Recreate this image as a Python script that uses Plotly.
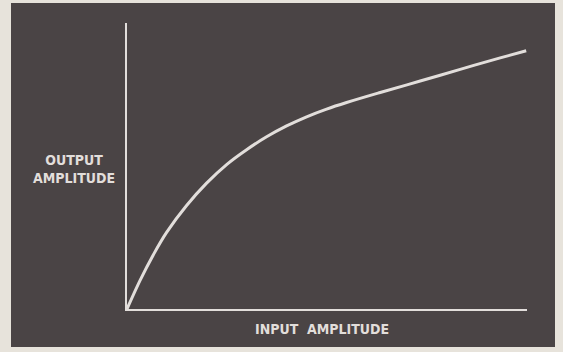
"""
Output vs input amplitude — compressive transfer curve on a dark card.
"""
import plotly.graph_objects as go

PANEL = "#4a4445"
BORDER = "#e7e3db"
INK = "#e2dedb"

# values (x: input, y: output, both in 0..10 units)
input_amp = [0.0, 0.33, 0.66, 0.99, 1.49, 1.99, 2.49, 2.99, 3.49, 3.99,
             4.49, 4.99, 5.49, 6.33, 7.33, 8.33, 9.33, 9.98]
output_amp = [0.0, 1.01, 1.90, 2.68, 3.62, 4.40, 5.05, 5.57, 6.02, 6.40,
              6.72, 6.99, 7.22, 7.57, 7.97, 8.38, 8.78, 9.03]

x_label = "INPUT&nbsp; AMPLITUDE"
y_label = "OUTPUT<br>AMPLITUDE"

# plot area in px: x 127..527, y 23..309
PW, PH = 400, 286

fig = go.Figure(go.Scatter(
    x=input_amp, y=output_amp,
    mode="lines",
    line=dict(color=INK, width=3, shape="spline", smoothing=1.0),
    hoverinfo="skip",
))

# dark card behind the plot, extending past the plot area
fig.add_shape(
    type="rect", xref="paper", yref="paper",
    x0=(11 - 127) / PW, x1=(555 - 127) / PW,
    y0=(309 - 347) / PH, y1=(309 - 3) / PH,
    fillcolor=PANEL, line_width=0, layer="below",
)

label_font = dict(family="DejaVu Sans Condensed", size=14, color=INK, weight="bold")
fig.add_annotation(
    text=y_label, xref="paper", yref="paper",
    x=(74 - 127) / PW, y=(309 - 168.5) / PH, showarrow=False,
    xanchor="center", yanchor="middle",
    font=label_font, align="center",
)
fig.add_annotation(
    text=x_label, xref="paper", yref="paper",
    x=(322 - 127) / PW, y=(309 - 329) / PH, showarrow=False,
    xanchor="center", yanchor="middle",
    font=label_font,
)

fig.update_xaxes(
    range=[0, 10], showgrid=False, zeroline=False, showticklabels=False,
    showline=True, linecolor=INK, linewidth=2, ticks="",
)
fig.update_yaxes(
    range=[0, 10], showgrid=False, zeroline=False, showticklabels=False,
    showline=True, linecolor=INK, linewidth=2, ticks="",
)
fig.update_layout(
    width=563, height=352,
    margin=dict(l=127, r=36, t=23, b=43),
    paper_bgcolor=BORDER, plot_bgcolor="rgba(0,0,0,0)",
    showlegend=False,
)

fig.write_html(
    "out.html",
    config={"displayModeBar": False},
    post_script="document.body.style.margin='0';",
)
